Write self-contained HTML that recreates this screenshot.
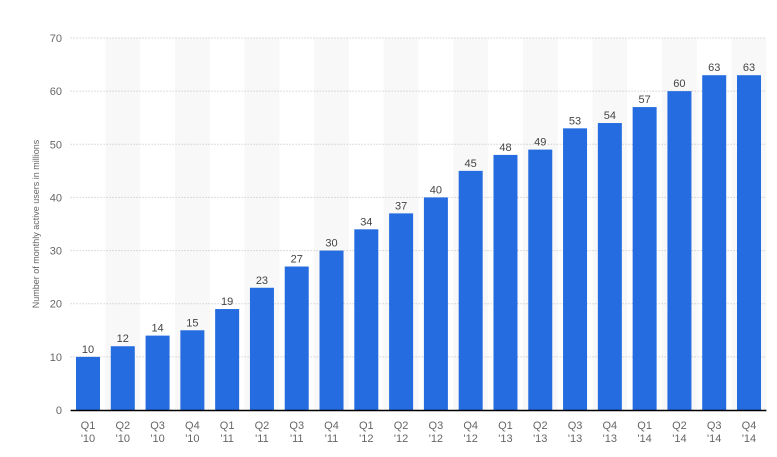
<!DOCTYPE html>
<html><head><meta charset="utf-8"><style>
body{margin:0;background:#fff;font-family:"Liberation Sans",sans-serif}
svg text{font-family:"Liberation Sans",sans-serif}
</style></head><body>
<svg id="chart" width="777" height="452">
<g id="bands"></g><g id="grid"></g><g id="bars"></g><g id="labels"></g>
<text transform="translate(39,224) rotate(-90)" text-anchor="middle" font-size="9" fill="#666">Number of monthly active users in millions</text>
</svg>
<script>
const categories=["Q1|'10","Q2|'10","Q3|'10","Q4|'10","Q1|'11","Q2|'11","Q3|'11","Q4|'11","Q1|'12","Q2|'12","Q3|'12","Q4|'12","Q1|'13","Q2|'13","Q3|'13","Q4|'13","Q1|'14","Q2|'14","Q3|'14","Q4|'14"];
const values=[10,12,14,15,19,23,27,30,34,37,40,45,48,49,53,54,57,60,63,63];
const yTicks=[0,10,20,30,40,50,60,70];
const L=70.6,R=766.4,Y0=410,Y70=38,ymax=70;
const slot=(R-L)/categories.length;
const x=i=>L+slot*i;
const y=v=>Y0-(Y0-Y70)*v/ymax;
const NS="http://www.w3.org/2000/svg";
function mk(t,a,p){const e=document.createElementNS(NS,t);for(const k in a)e.setAttribute(k,a[k]);document.getElementById(p).appendChild(e);return e;}
categories.forEach((c,i)=>{if(i%2==1){const b=mk('rect',{x:x(i),y:Y70,width:slot,height:Y0-Y70,fill:'#f8f8f8'},'bands');

}});
yTicks.forEach(t=>{
 if(t>0){const g=mk('line',{x1:L,x2:R,y1:y(t),y2:y(t),stroke:'#bbb','stroke-dasharray':'1,2','stroke-width':1},'grid');
 
 }
 const tl=mk('text',{x:62,y:y(t)+4,'text-anchor':'end','font-size':11,fill:'#666'},'labels');tl.textContent=t;
 
 
});
values.forEach((v,i)=>{
 const cx=x(i)+slot/2;
 const b=mk('rect',{x:cx-12,y:y(v),width:24,height:Y0-y(v),fill:'#246ce0'},'bars');
 
 
 const t=mk('text',{x:cx,y:y(v)-4,'text-anchor':'middle','font-size':11,fill:'#444'},'labels');t.textContent=v;
 
 
 const p=categories[i].split('|');
 const a=mk('text',{x:cx,y:429,'text-anchor':'middle','font-size':11,fill:'#666'},'labels');a.textContent=p[0];
 
 
 const b2=mk('text',{x:cx,y:442,'text-anchor':'middle','font-size':11,fill:'#666'},'labels');b2.textContent=p[1];
 
 
});
const ax=mk('line',{x1:L,x2:R,y1:Y0+0.5,y2:Y0+0.5,stroke:'#000','stroke-width':1.5},'labels');


</script>
</body></html>
